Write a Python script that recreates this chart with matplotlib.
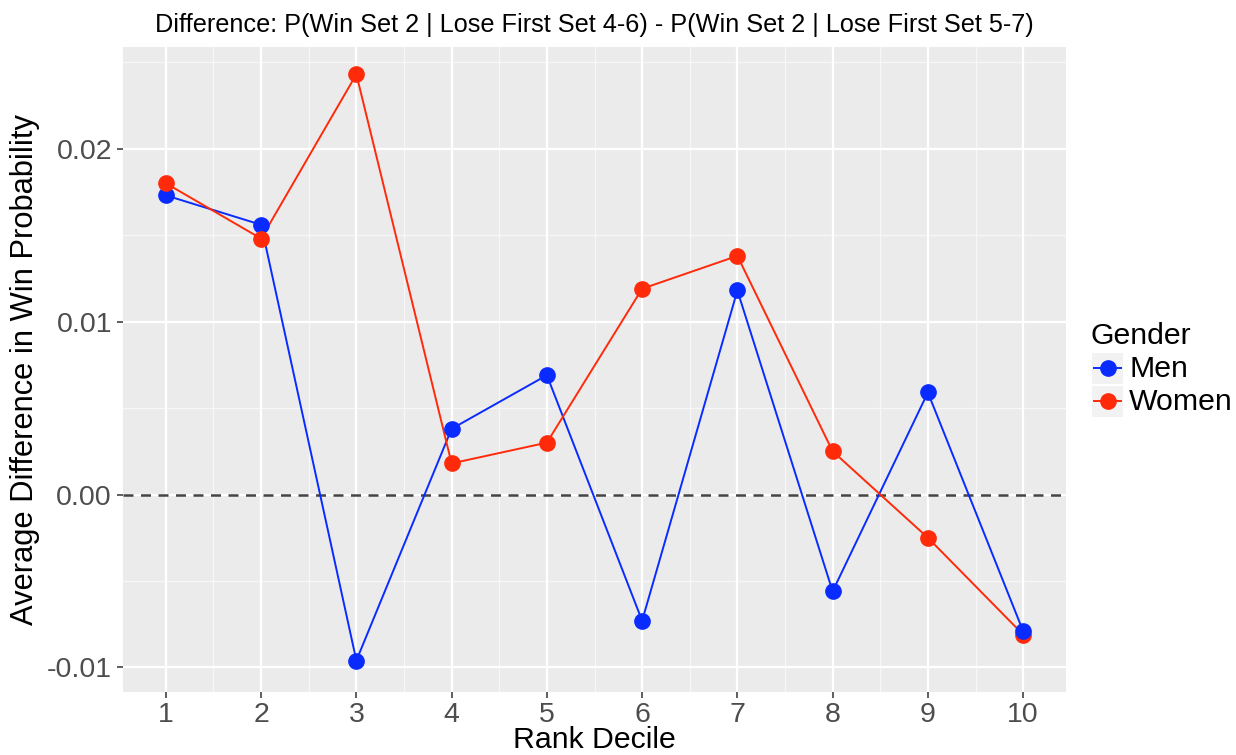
import matplotlib
matplotlib.use("Agg")
import matplotlib.pyplot as plt
from matplotlib.lines import Line2D
from matplotlib.patches import Rectangle
import numpy as np

deciles = [1, 2, 3, 4, 5, 6, 7, 8, 9, 10]
men = [0.0173, 0.0156, -0.0096, 0.0038, 0.0069, -0.0073, 0.0118, -0.0056, 0.0059, -0.0079]
women = [0.0180, 0.0148, 0.0243, 0.0018, 0.0030, 0.0119, 0.0138, 0.0025, -0.0025, -0.0081]
yticks = [-0.01, 0.00, 0.01, 0.02]
ytick_labels = ["-0.01", "0.00", "0.01", "0.02"]
genders = ["Men", "Women"]

plt.rcParams['font.family'] = ['Liberation Sans', 'DejaVu Sans']

W, H = 1236, 755
fig = plt.figure(figsize=(W / 100, H / 100), dpi=100)
L, R, T, B = 123, 1066, 47, 692
ax = fig.add_axes([L / W, 1 - B / H, (R - L) / W, (B - T) / H])
ax.set_facecolor('#EBEBEB')
for s in ax.spines.values():
    s.set_visible(False)

ax.set_xlim(0.55, 10.45)
ax.set_ylim(-0.01142, 0.02588)

# minor gridlines
for xm in np.arange(1.5, 10, 1.0):
    ax.axvline(xm, color='#F7F7F7', lw=0.9, zorder=0)
for ym in [-0.005, 0.005, 0.015, 0.025]:
    ax.axhline(ym, color='#F7F7F7', lw=0.9, zorder=0)
for xv in deciles:
    ax.axvline(xv, color='white', lw=1.6, zorder=0)
for yv in yticks:
    ax.axhline(yv, color='white', lw=1.6, zorder=0)

ax.axhline(0, color='#444444', lw=1.8, ls=(0, (4, 3)), zorder=1)

men_c = '#0A2BFF'
women_c = '#FF2A0A'
ms = 11
ax.plot(deciles, men, color=men_c, lw=1.4, zorder=2)
ax.plot(deciles, women, color=women_c, lw=1.4, zorder=2)
ax.plot(deciles[:-1], men[:-1], ls='none', marker='o', ms=ms, color=men_c, zorder=3)
ax.plot(deciles, women, ls='none', marker='o', ms=ms, color=women_c, zorder=4)
ax.plot(deciles[-1:], men[-1:], ls='none', marker='o', ms=ms, color=men_c, zorder=5)

ax.set_xticks(deciles)
ax.set_xticklabels([str(d) for d in deciles])
ax.set_yticks(yticks)
ax.set_yticklabels(ytick_labels)
ax.tick_params(axis='both', colors='#333333', labelsize=20.5, length=4, width=1.1,
               labelcolor='#4D4D4D', pad=4)
ax.tick_params(axis='x', pad=3)

ax.set_xlabel('Rank Decile', fontsize=21.8, labelpad=-1)
ax.set_ylabel('Average Difference in Win Probability', fontsize=22.2, labelpad=5)
fig.text((L + R) / 2 / W, 1 - 25 / H,
         'Difference: P(Win Set 2 | Lose First Set 4-6) - P(Win Set 2 | Lose First Set 5-7)',
         fontsize=18.2, ha='center', va='center')

# legend (ggplot-style)
fig.text(1090 / W, 1 - 336 / H, 'Gender', fontsize=21.8, ha='left', va='center')
colors = [men_c, women_c]
for i, (g, c) in enumerate(zip(genders, colors)):
    yc = 368 + i * 33
    fig.add_artist(Rectangle((1092 / W, 1 - (yc + 15.5) / H), 31 / W, 31 / H,
                             transform=fig.transFigure, facecolor='#F2F2F2', edgecolor='none'))
    fig.add_artist(Line2D([1094 / W, 1121 / W], [1 - yc / H, 1 - yc / H],
                          transform=fig.transFigure, color=c, lw=1.4))
    fig.add_artist(Line2D([1107.5 / W], [1 - yc / H], transform=fig.transFigure,
                          color=c, marker='o', ms=ms, ls='none'))
    fig.text(1129 / W, 1 - (yc + 1) / H, g, fontsize=21.8, ha='left', va='center')

fig.savefig('out.png', dpi=100)
